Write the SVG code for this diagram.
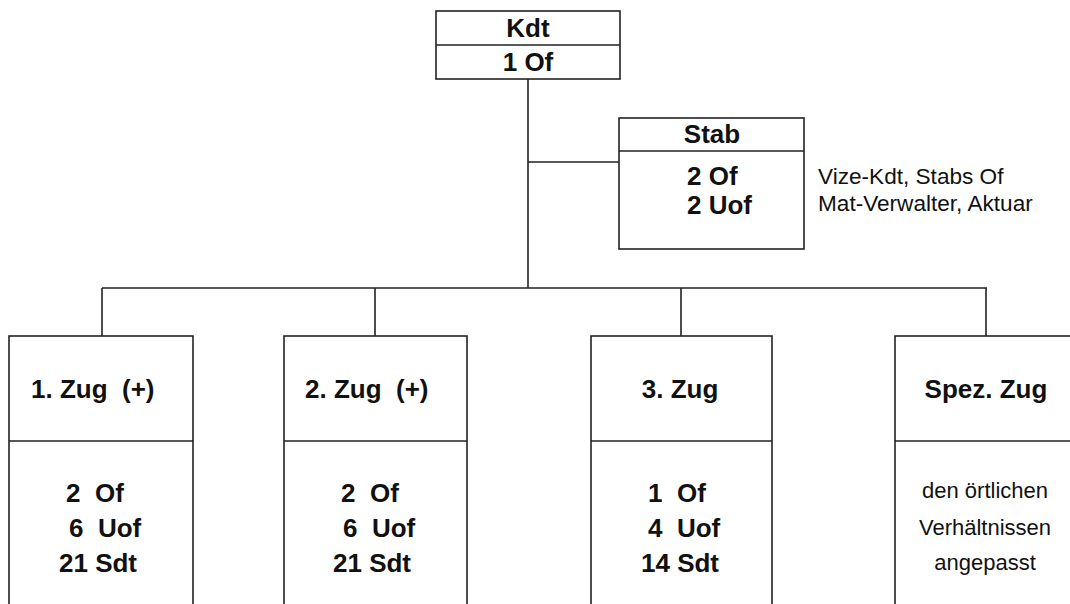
<svg xmlns="http://www.w3.org/2000/svg" width="1070" height="604" viewBox="0 0 1070 604">
<style>
.box{fill:#fff;stroke:#222;stroke-width:1.6}
.ln{fill:none;stroke:#222;stroke-width:1.6}
.b{font-family:"Liberation Sans",Arial,sans-serif;font-weight:bold;font-size:26px;fill:#111}
.r{font-family:"Liberation Sans",Arial,sans-serif;font-size:22px;fill:#111}
.s{font-size:22.6px}
.c{text-anchor:middle}
</style>
<rect width="1070" height="604" fill="#fff"/>
<g id="connectors">
<path class="ln" d="M528 79V288M528 162H619M102 288H987M102 288V336M375 288V336M681 288V336M986 288V336"/>
</g>
<g id="kdt">
<rect class="box" x="436" y="11" width="184" height="68"/>
<line class="ln" x1="436" y1="45" x2="620" y2="45"/>
<text class="b c" x="528" y="37">Kdt</text>
<text class="b c" x="528" y="71">1 Of</text>
</g>
<g id="stab">
<rect class="box" x="619" y="118" width="185" height="131"/>
<line class="ln" x1="619" y1="151" x2="804" y2="151"/>
<text class="b c" x="712" y="143">Stab</text>
<text class="b" x="687" y="185">2 Of</text>
<text class="b" x="687" y="214">2 Uof</text>
</g>
<g id="stab-note">
<text class="r s" x="818" y="184">Vize-Kdt, Stabs Of</text>
<text class="r s" x="818" y="211">Mat-Verwalter, Aktuar</text>
</g>
<g id="zug1">
<rect class="box" x="9" y="336" width="184" height="280"/>
<line class="ln" x1="9" y1="441" x2="193" y2="441"/>
<text class="b" x="31" y="398" xml:space="preserve">1. Zug  (+)</text>
<text class="b" x="66" y="502" xml:space="preserve">2  Of</text>
<text class="b" x="69" y="537" xml:space="preserve">6  Uof</text>
<text class="b" x="59" y="572">21 Sdt</text>
</g>
<g id="zug2">
<rect class="box" x="284" y="336" width="183" height="280"/>
<line class="ln" x1="284" y1="441" x2="467" y2="441"/>
<text class="b" x="305" y="398" xml:space="preserve">2. Zug  (+)</text>
<text class="b" x="341" y="502" xml:space="preserve">2  Of</text>
<text class="b" x="343" y="537" xml:space="preserve">6  Uof</text>
<text class="b" x="333" y="572">21 Sdt</text>
</g>
<g id="zug3">
<rect class="box" x="591" y="336" width="181" height="280"/>
<line class="ln" x1="591" y1="441" x2="772" y2="441"/>
<text class="b c" x="680" y="398">3. Zug</text>
<text class="b" x="648" y="502" xml:space="preserve">1  Of</text>
<text class="b" x="648" y="537" xml:space="preserve">4  Uof</text>
<text class="b" x="641" y="572">14 Sdt</text>
</g>
<g id="spez-zug">
<rect class="box" x="895" y="336" width="190" height="280"/>
<line class="ln" x1="895" y1="441" x2="1085" y2="441"/>
<text class="b c" x="986" y="398">Spez. Zug</text>
<text class="r c" x="985" y="498">den örtlichen</text>
<text class="r c" x="985" y="535">Verhältnissen</text>
<text class="r c" x="985" y="570">angepasst</text>
</g>
</svg>
